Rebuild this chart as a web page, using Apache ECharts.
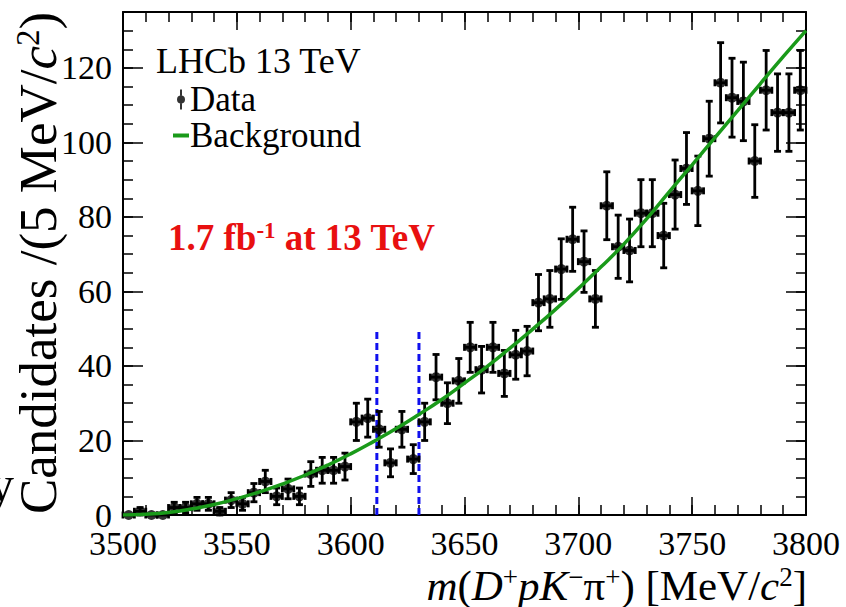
<!DOCTYPE html>
<html>
<head>
<meta charset="utf-8">
<script src="https://cdn.jsdelivr.net/npm/echarts@6/dist/echarts.min.js"></script>
<style>html,body{margin:0;padding:0;background:#fff;}#c{width:846px;height:607px;}</style>
</head>
<body>
<div id="c"></div>
<script>
// ---- data ----
const binWidth = 5;
const binCenters = [3502.5,3507.5,3512.5,3517.5,3522.5,3527.5,3532.5,3537.5,3542.5,3547.5,
  3552.5,3557.5,3562.5,3567.5,3572.5,3577.5,3582.5,3587.5,3592.5,3597.5,
  3602.5,3607.5,3612.5,3617.5,3622.5,3627.5,3632.5,3637.5,3642.5,3647.5,
  3652.5,3657.5,3662.5,3667.5,3672.5,3677.5,3682.5,3687.5,3692.5,3697.5,
  3702.5,3707.5,3712.5,3717.5,3722.5,3727.5,3732.5,3737.5,3742.5,3747.5,
  3752.5,3757.5,3762.5,3767.5,3772.5,3777.5,3782.5,3787.5,3792.5,3797.5];
const counts = [0,1,0,0,2,2,3,3,1,4,
  3,6,9,5,7,5,11,12,12,13,
  25,26,23,14,23,15,25,37,30,36,
  45,39,45,38,43,44,57,58,66,74,
  68,58,83,72,71,81,81,75,86,93,
  87,101,116,112,111,95,114,108,108,114];
const bgMass = [3500,3510,3520,3530,3540,3550,3560,3570,3580,3590,3600,3610,3620,3630,3640,3650,
  3660,3670,3680,3690,3700,3710,3720,3730,3740,3750,3760,3770,3780,3790,3800];
const bgValues = [0,0.2,0.7,1.6,2.8,4.4,6.2,8.3,10.7,13.4,16.4,19.7,23.2,27.0,31.0,35.4,
  39.9,44.8,49.9,55.2,60.8,66.6,72.7,79.5,86.8,94.0,101.3,108.5,115.8,123.0,130.0];
const windowLines = [3611.5, 3630];
const windowTop = 50;
const xTicks = [3500, 3550, 3600, 3650, 3700, 3750, 3800];
const yTicks = [0, 20, 40, 60, 80, 100, 120];

// ---- build ----
const SERIF = "'Liberation Serif','DejaVu Serif',serif";
const errRows = binCenters.map((x, i) => [x, counts[i], Math.sqrt(counts[i])]);
const dataPts = binCenters.map((x, i) => [x, counts[i]]);
const bgData = bgMass.map((m, i) => [m, bgValues[i]]);

const chart = echarts.init(document.getElementById('c'), null, {renderer: 'svg'});

function xAx(pos, interval, tickLen, showLabel, showLine) {
  return {
    type: 'value', min: 3500, max: 3800, interval: interval, position: pos,
    axisLine: {show: showLine, onZero: false, lineStyle: {color: '#000', width: 2}},
    axisTick: {show: true, inside: true, length: tickLen, lineStyle: {color: '#000', width: 1.5}},
    axisLabel: {show: showLabel, margin: 11, color: '#000', fontFamily: SERIF, fontSize: 34,
      formatter: v => xTicks.indexOf(v) >= 0 ? String(v) : ''},
    splitLine: {show: false}
  };
}
function yAx(pos, interval, tickLen, showLabel, showLine) {
  return {
    type: 'value', min: 0, max: 135, interval: interval, position: pos,
    axisLine: {show: showLine, onZero: false, lineStyle: {color: '#000', width: 2}},
    axisTick: {show: true, inside: true, length: tickLen, lineStyle: {color: '#000', width: 1.5}},
    axisLabel: {show: showLabel, margin: 11, color: '#000', fontFamily: SERIF, fontSize: 34,
      showMaxLabel: false,
      formatter: v => yTicks.indexOf(v) >= 0 ? String(v) : ''},
    splitLine: {show: false}
  };
}

const option = {
  backgroundColor: '#fff',
  animation: false,
  grid: {left: 123, right: 40, top: 12, bottom: 92, containLabel: false},
  xAxis: [
    xAx('bottom', 50, 18, true, true),
    xAx('bottom', 10, 10, false, false),
    xAx('top', 50, 18, false, true),
    xAx('top', 10, 10, false, false)
  ],
  yAxis: [
    yAx('left', 20, 20, true, true),
    yAx('left', 5, 10, false, false),
    yAx('right', 20, 20, false, true),
    yAx('right', 5, 10, false, false)
  ],
  title: {
    text: 'LHCb 13 TeV', left: 151, top: 38,
    textStyle: {fontFamily: SERIF, fontSize: 36, fontWeight: 'normal', color: '#000'}
  },
  legend: {
    orient: 'vertical', left: 168, top: 77, itemGap: 1, itemWidth: 16, itemHeight: 20,
    textStyle: {fontFamily: SERIF, fontSize: 35, lineHeight: 32, color: '#000', padding: [0, 0, 0, -4]},
    data: [
      {name: 'Data', icon: 'path://M7,0L9,0L9,6L7,6Z M7,14L9,14L9,20L7,20Z M4,10A4,4 0 1,0 12,10A4,4 0 1,0 4,10Z',
        itemStyle: {color: '#000'}},
      {name: 'Background', icon: 'path://M4,9L16,9L16,12L4,12Z', itemStyle: {color: '#1a9a1a'}}
    ],
    selectedMode: false
  },
  graphic: [
    {type: 'text', left: 168, top: 219, z: 100,
      style: {text: '1.7 fb{s|-1} at 13 TeV', fill: '#e81010', fontFamily: SERIF, fontSize: 37, fontWeight: 'bold',
        rich: {s: {fontSize: 23, fontWeight: 'bold', fill: '#e81010', fontFamily: SERIF, verticalAlign: 'top', lineHeight: 23}}}},
    {type: 'text', x: 38, y: 263, rotation: Math.PI / 2, z: 100,
      style: {text: 'Candidates /(5 MeV/{i|c}{s|2})', x: 0, y: 0, align: 'center', verticalAlign: 'middle',
        fill: '#000', fontFamily: SERIF, fontSize: 53, lineHeight: 53,
        rich: {
          i: {fontStyle: 'italic', fontFamily: SERIF, fontSize: 53, lineHeight: 53, fill: '#000'},
          s: {fontFamily: SERIF, fontSize: 33, lineHeight: 33, verticalAlign: 'top', fill: '#000'}
        }}},
    {type: 'text', x: 807, y: 585, z: 100,
      style: {text: '{i|m}({i|D}{s|+}{i|pK}{s|\u2212}\u03c0{s|+}) [MeV/{i|c}{s|2}]', x: 0, y: 0,
        align: 'right', verticalAlign: 'middle',
        fill: '#000', fontFamily: SERIF, fontSize: 43, lineHeight: 43,
        rich: {
          i: {fontStyle: 'italic', fontFamily: SERIF, fontSize: 43, lineHeight: 43, fill: '#000'},
          s: {fontFamily: SERIF, fontSize: 27, lineHeight: 27, verticalAlign: 'top', fill: '#000'}
        }}},
    {type: 'text', x: -11, y: 484, z: 100,
      style: {text: 'y', x: 0, y: 0, verticalAlign: 'middle', fill: '#000', fontFamily: SERIF, fontSize: 50}}
  ],
  series: [
    {
      name: 'window', type: 'line', xAxisIndex: 0, yAxisIndex: 0, silent: true, z: 2,
      showSymbol: false, symbol: 'none',
      data: [[windowLines[0], 0], [windowLines[0], windowTop], null, [windowLines[1], 0], [windowLines[1], windowTop]],
      connectNulls: false,
      lineStyle: {color: '#1010ee', width: 3, type: [7, 4]}
    },
    {
      name: 'errors', type: 'custom', xAxisIndex: 0, yAxisIndex: 0, z: 4, silent: true,
      encode: {x: 0, y: 1},
      data: errRows,
      renderItem: function (params, api) {
        const x = api.value(0), y = api.value(1), e = api.value(2);
        const hb = binWidth / 2;
        const c = api.coord([x, y]);
        const t = api.coord([x, y + e]);
        const b = api.coord([x, Math.max(y - e, 0)]);
        const l = api.coord([x - hb, y]);
        const r = api.coord([x + hb, y]);
        const st = {stroke: '#000', lineWidth: 2.8};
        const cap = 3.5;
        const ch = [
          {type: 'line', shape: {x1: l[0], y1: c[1], x2: r[0], y2: c[1]}, style: st},
          {type: 'line', shape: {x1: l[0], y1: c[1] - cap, x2: l[0], y2: c[1] + cap}, style: st},
          {type: 'line', shape: {x1: r[0], y1: c[1] - cap, x2: r[0], y2: c[1] + cap}, style: st}
        ];
        if (e > 0) {
          ch.push({type: 'line', shape: {x1: c[0], y1: t[1], x2: c[0], y2: b[1]}, style: st});
          ch.push({type: 'line', shape: {x1: c[0] - cap, y1: t[1], x2: c[0] + cap, y2: t[1]}, style: st});
          ch.push({type: 'line', shape: {x1: c[0] - cap, y1: b[1], x2: c[0] + cap, y2: b[1]}, style: st});
        }
        return {type: 'group', children: ch};
      }
    },
    {
      name: 'Data', type: 'scatter', xAxisIndex: 0, yAxisIndex: 0, z: 5,
      symbol: 'circle', symbolSize: 10, itemStyle: {color: '#000'},
      data: dataPts
    },
    {
      name: 'Background', type: 'line', xAxisIndex: 0, yAxisIndex: 0, z: 6,
      smooth: true, showSymbol: false, symbol: 'none',
      lineStyle: {color: '#1a9a1a', width: 3.5},
      itemStyle: {color: '#1a9a1a'},
      data: bgData
    }
  ]
};
chart.setOption(option);
</script>
</body>
</html>
